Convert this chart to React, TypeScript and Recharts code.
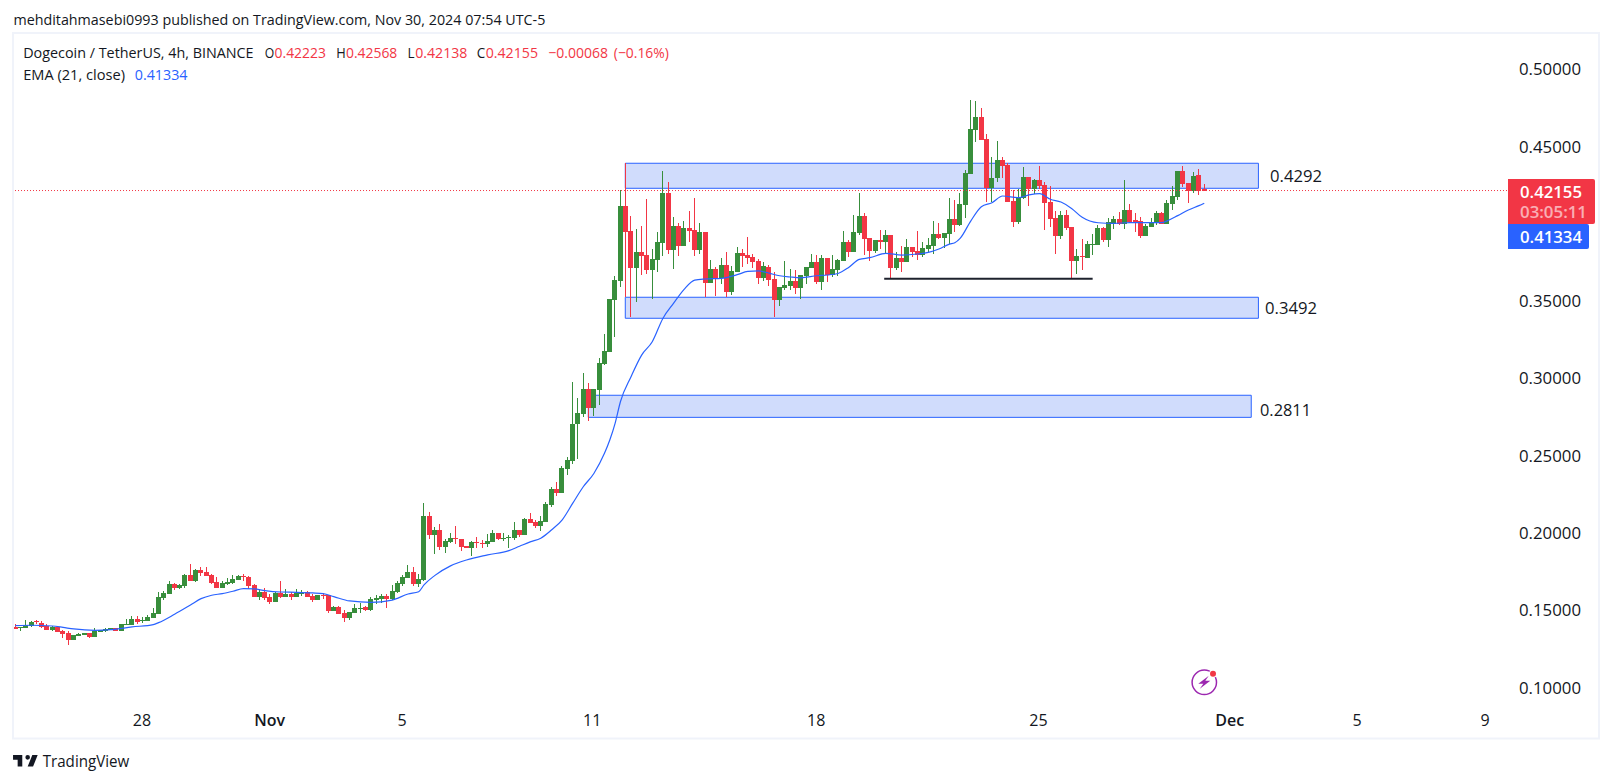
import React from "react";
import { ComposedChart, Bar, Line, XAxis, YAxis, ReferenceArea, ReferenceLine } from "recharts";

const opens = [
.1394,.1385,.1385,.1398,.1428,.1415,.1400,.1372,.1389,.1366,
.1351,.1310,.1336,.1342,.1351,.1329,.1362,.1366,.1372,.1385,
.1366,.1405,.1405,.1443,.1431,.1431,.1450,.1476,.1579,.1605,
.1670,.1644,.1657,.1728,.1689,.1761,.1748,.1728,.1683,.1644,
.1670,.1676,.1696,.1722,.1715,.1664,.1586,.1618,.1586,.1553,
.1612,.1586,.1605,.1586,.1610,.1618,.1592,.1566,.1599,.1599,
.1495,.1521,.1482,.1450,.1482,.1510,.1521,.1502,.1566,.1573,
.1592,.1573,.1618,.1670,.1709,.1748,.1670,.1696,.2110,.1987,
.2019,.1909,.1942,.1968,.1961,.1916,.1903,.1942,.1937,.1929,
.1942,.2000,.1961,.1970,.1968,.2019,.1987,.2091,.2071,.2045,
.2071,.2181,.2284,.2258,.2413,.2465,.2704,.2769,.2931,.2808,
.2924,.3093,.3170,.3507,.3630,.4115,.3953,.3714,.3817,.3798,
.3701,.3766,.3876,.4199,.3830,.3986,.3856,.3973,.3960,.3830,
.3947,.3617,.3707,.3649,.3733,.3558,.3688,.3811,.3798,.3785,
.3759,.3649,.3720,.3643,.3507,.3584,.3597,.3630,.3584,.3662,
.3714,.3753,.3623,.3779,.3669,.3701,.3759,.3882,.3817,.3940,
.4050,.3908,.3824,.3895,.3882,.3927,.3714,.3779,.3753,.3850,
.3824,.3798,.3837,.3857,.3934,.3908,.3934,.4031,.3992,.4122,
.4322,.4607,.4691,.4549,.4232,.4297,.4413,.4381,.4148,.4012,
.4167,.4303,.4225,.4284,.4251,.4141,.4038,.3921,.4057,.3979,
.3759,.3792,.3779,.3863,.3863,.3973,.3896,.3999,.4031,.3999,
.4090,.4025,.4019,.3921,.3980,.4006,.4070,.3999,.4129,.4174,
.4342,.4264,.4210,.4316,.42223];
const highs = [
.1409,.1389,.1435,.1430,.1437,.1428,.1409,.1400,.1400,.1372,
.1366,.1340,.1351,.1351,.1351,.1383,.1374,.1385,.1383,.1385,
.1409,.1443,.1463,.1463,.1456,.1469,.1515,.1618,.1625,.1690,
.1677,.1670,.1735,.1799,.1767,.1780,.1780,.1735,.1715,.1689,
.1709,.1728,.1728,.1735,.1722,.1670,.1638,.1644,.1605,.1618,
.1689,.1638,.1618,.1638,.1629,.1625,.1605,.1599,.1612,.1599,
.1528,.1528,.1502,.1489,.1541,.1547,.1528,.1586,.1599,.1605,
.1605,.1664,.1689,.1728,.1793,.1780,.1735,.2194,.2136,.2039,
.2058,.1961,.2000,.2045,.1961,.1916,.1948,.1974,.1955,.1994,
.2019,.2000,.2000,.1987,.2071,.2019,.2097,.2129,.2084,.2110,
.2201,.2298,.2329,.2433,.2491,.2976,.2873,.3034,.2970,.2931,
.3132,.3287,.3513,.3662,.4219,.4392,.4050,.3966,.3986,.4160,
.3837,.3947,.4342,.4270,.4044,.4005,.4018,.4083,.4167,.4005,
.3947,.3766,.3720,.3779,.3817,.3727,.3850,.3837,.3915,.3804,
.3772,.3753,.3733,.3688,.3591,.3759,.3707,.3701,.3669,.3720,
.3804,.3798,.3798,.3779,.3798,.3772,.3953,.3895,.4057,.4199,
.4070,.3908,.3895,.3960,.3960,.3927,.3817,.3856,.3901,.3850,
.3953,.3882,.3908,.4018,.4005,.3941,.4167,.4154,.4200,.4348,
.4801,.4795,.4749,.4581,.4432,.4536,.4432,.4394,.4219,.4225,
.4368,.4303,.4290,.4374,.4270,.4245,.4083,.4083,.4089,.3979,
.3837,.3902,.3889,.3934,.3992,.3980,.4038,.4051,.4077,.4284,
.4129,.4070,.4044,.3999,.4038,.4083,.4077,.4154,.4245,.4342,
.4374,.4264,.4336,.4355,.42568];
const lows = [
.1379,.1368,.1385,.1392,.1413,.1385,.1372,.1366,.1359,.1323,
.1275,.1310,.1334,.1342,.1321,.1329,.1359,.1359,.1372,.1366,
.1366,.1405,.1405,.1413,.1418,.1431,.1450,.1476,.1566,.1605,
.1631,.1638,.1644,.1689,.1683,.1722,.1722,.1670,.1644,.1644,
.1664,.1670,.1696,.1689,.1638,.1586,.1566,.1566,.1541,.1553,
.1579,.1586,.1566,.1586,.1592,.1586,.1553,.1566,.1573,.1482,
.1495,.1476,.1424,.1437,.1482,.1482,.1495,.1495,.1541,.1547,
.1515,.1566,.1612,.1657,.1709,.1657,.1651,.1689,.1961,.1864,
.1890,.1870,.1935,.1929,.1883,.1903,.1851,.1903,.1903,.1909,
.1942,.1955,.1948,.1903,.1955,.1974,.1987,.2065,.2032,.2013,
.2071,.2168,.2238,.2258,.2374,.2446,.2478,.2750,.2724,.2756,
.2827,.3086,.3170,.3267,.3591,.3524,.3397,.3494,.3669,.3675,
.3513,.3688,.3791,.3804,.3707,.3791,.3856,.3882,.3791,.3804,
.3526,.3617,.3533,.3610,.3526,.3539,.3688,.3720,.3740,.3714,
.3610,.3630,.3597,.3397,.3468,.3571,.3571,.3546,.3513,.3610,
.3714,.3610,.3571,.3623,.3656,.3662,.3759,.3785,.3817,.3927,
.3798,.3759,.3811,.3837,.3811,.3643,.3701,.3688,.3753,.3785,
.3766,.3785,.3817,.3805,.3902,.3844,.3869,.3947,.3986,.4038,
.4322,.4530,.4542,.4141,.4141,.4271,.4297,.4141,.3979,.3999,
.4161,.4115,.4193,.4225,.3960,.3979,.3805,.3902,.3960,.3649,
.3675,.3701,.3779,.3798,.3863,.3883,.3850,.3967,.3993,.3967,
.4012,.3947,.3908,.3921,.3980,.3993,.3999,.3999,.4090,.4154,
.4239,.4135,.4200,.4187,.42138];
const closes = [
.1379,.1389,.1405,.1424,.1422,.1392,.1374,.1389,.1359,.1349,
.1310,.1340,.1346,.1351,.1327,.1366,.1374,.1379,.1383,.1366,
.1409,.1411,.1443,.1424,.1437,.1456,.1482,.1586,.1612,.1670,
.1646,.1664,.1728,.1689,.1761,.1741,.1722,.1676,.1644,.1676,
.1683,.1702,.1722,.1713,.1657,.1586,.1618,.1582,.1553,.1612,
.1586,.1605,.1586,.1612,.1614,.1586,.1566,.1599,.1595,.1495,
.1521,.1476,.1450,.1489,.1515,.1515,.1502,.1573,.1579,.1592,
.1573,.1625,.1676,.1715,.1748,.1670,.1702,.2110,.1987,.2019,
.1909,.1948,.1968,.1963,.1909,.1903,.1942,.1937,.1933,.1948,
.2000,.1961,.1968,.1974,.2019,.1987,.2091,.2065,.2045,.2078,
.2188,.2285,.2258,.2420,.2471,.2704,.2775,.2931,.2808,.2931,
.3099,.3177,.3513,.3636,.4115,.3947,.3714,.3817,.3791,.3701,
.3772,.3882,.4199,.3830,.3986,.3856,.3973,.3953,.3830,.3947,
.3617,.3707,.3649,.3733,.3558,.3694,.3811,.3791,.3779,.3753,
.3649,.3727,.3636,.3507,.3591,.3604,.3630,.3584,.3669,.3720,
.3753,.3623,.3779,.3669,.3707,.3766,.3882,.3817,.3947,.4050,
.3901,.3824,.3895,.3882,.3927,.3714,.3779,.3753,.3850,.3817,
.3798,.3843,.3863,.3934,.3908,.3941,.4031,.3992,.4128,.4329,
.4614,.4691,.4542,.4232,.4297,.4413,.4374,.4141,.4012,.4174,
.4303,.4225,.4284,.4245,.4135,.4031,.3921,.4057,.3973,.3759,
.3792,.3788,.3869,.3869,.3973,.3896,.4012,.4031,.3999,.4090,
.4012,.4012,.3921,.3986,.4012,.4070,.3999,.4135,.4180,.4342,
.4258,.4210,.4310,.4213,.42155];

const emaIndex = [0,3,7,9,11,15,18,22,26,27,30,33,35,37,39,41,43,45,47,50,53,56,58,60,63,67,71,74,76,77,79,82,85,89,93,95,97,99,101,103,105,107,109,111,112,113,114,116,118,120,122,124,126,128,130,133,136,138,140,142,144,146,148,151,153,155,157,159,161,164,167,170,172,174,176,177,178,180,182,184,186,189,191,193,195,197,199,201,204,207,210,213,216,217,219,221,223,224];
const emaValues = [.1400,.1403,.1398,.1389,.1379,.1370,.1374,.1392,.1407,.1420,.1474,.1534,.1575,.1597,.1608,.1623,.1640,.1638,.1627,.1618,.1616,.1612,.1607,.1588,.1560,.1551,.1566,.1605,.1620,.1664,.1724,.1787,.1825,.1858,.1886,.1914,.1942,.1966,.2019,.2083,.2191,.2299,.2385,.2515,.2601,.2709,.2849,.3011,.3151,.3237,.3388,.3485,.3576,.3636,.3643,.3647,.3671,.3692,.3696,.3681,.3664,.3656,.3651,.3664,.3669,.3679,.3718,.3770,.3781,.3809,.3798,.3805,.3815,.3837,.3869,.3878,.3906,.4018,.4111,.4137,.4180,.4169,.4187,.4195,.4159,.4141,.4100,.4042,.4007,.4003,.4008,.4008,.4008,.4019,.4053,.4090,.4118,.41334];

const timeTicks = [23.87, 47.93, 72.85, 108.7, 150.9, 192.75, 228.8, 252.8, 276.9];
const timeLabels = ["28", "Nov", "5", "11", "18", "25", "Dec", "5", "9"];
const priceTicks = [0.1, 0.15, 0.2, 0.25, 0.3, 0.35, 0.4, 0.45, 0.5];
const shownPriceTicks = [0.1, 0.15, 0.2, 0.25, 0.3, 0.35, 0.45, 0.5];

const boxX1 = [114.92, 114.92, 107.95];
const boxX2 = [234.2, 234.2, 232.85];
const boxTop = [0.4392, 0.3525, 0.2891];
const boxBottom = [0.4230, 0.3389, 0.2748];
const boxLabels = ["0.4292", "0.3492", "0.2811"];

const supportPrice = 0.3645;
const supportFrom = 163.7;
const supportTo = 202.97;
const lastClose = 0.42155;

const GREEN = "#388e3c";
const RED = "#f23645";
const BLUE = "#2962ff";
const INK = "#131722";
const FONT = "'Open Sans', sans-serif";

const table = opens.map((o, i) => {
  const k = emaIndex.indexOf(i);
  return { i, open: o, high: highs[i], low: lows[i], close: closes[i], range: [lows[i], highs[i]], ema: k >= 0 ? emaValues[k] : null };
});

function Candle(props: any) {
  const { x, y, width, height, payload } = props;
  const { open, high, low, close } = payload;
  const k = height / (high - low);
  const top = y + (high - Math.max(open, close)) * k;
  const bottom = y + (high - Math.min(open, close)) * k;
  const cx = x + width / 2;
  const color = close >= open ? GREEN : RED;
  return (
    <g shapeRendering="crispEdges">
      <rect x={Math.round(cx - 0.5)} y={y} width={1} height={height} fill={color} />
      <rect x={Math.round(cx - 2.5)} y={top} width={5} height={Math.max(bottom - top, 1)} fill={color} />
    </g>
  );
}

function TimeTick(props: any) {
  const { x, y, index } = props;
  const label = timeLabels[index];
  const bold = label === "Nov" || label === "Dec";
  return (
    <text x={x} y={y + 10} textAnchor="middle" fontFamily={FONT} fontSize={16} fontWeight={bold ? 600 : 400} fill={INK}>
      {label}
    </text>
  );
}

function PriceTick(props: any) {
  const { y, payload } = props;
  if (!shownPriceTicks.includes(payload.value)) return null;
  return (
    <text x={1519} y={y + 6} fontFamily={FONT} fontSize={17} fill={INK} textLength={62} lengthAdjust="spacingAndGlyphs">
      {payload.value.toFixed(5)}
    </text>
  );
}

function T(p: { x: number; y: number; w: number; s: number; c: string; t: string; o?: number; b?: number }) {
  return (
    <text x={p.x} y={p.y} fontFamily={FONT} fontSize={p.s} fill={p.c} opacity={p.o} fontWeight={p.b} textLength={p.w} lengthAdjust="spacingAndGlyphs">
      {p.t}
    </text>
  );
}

export default function App() {
  return (
    <div style={{ position: "absolute", left: 0, top: 0, width: 1612, height: 783, background: "#fff", overflow: "hidden" }}>
      <div style={{ position: "absolute", left: 0, top: 0 }}>
        <ComposedChart width={1612} height={783} data={table} margin={{ top: 34, right: 0, left: 14, bottom: 45 }}>
          {boxX1.map((_, n) => (
            <ReferenceArea key={n} x1={boxX1[n]} x2={boxX2[n]} y1={boxBottom[n]} y2={boxTop[n]} fill="#d0dcfc" fillOpacity={1} stroke={BLUE} strokeWidth={1} ifOverflow="visible" />
          ))}
          <XAxis dataKey="i" type="number" domain={[-0.245, 281.6]} ticks={timeTicks} interval={0} height={30} axisLine={false} tickLine={false} tick={<TimeTick />} allowDataOverflow />
          <YAxis orientation="right" width={102} type="number" domain={[0.08675, 0.52283]} ticks={priceTicks} interval={0} axisLine={false} tickLine={false} tick={<PriceTick />} allowDataOverflow />
          <ReferenceLine y={lastClose} stroke={RED} strokeWidth={1} strokeDasharray="1 2" />
          <Line dataKey="ema" type="monotone" stroke={BLUE} strokeWidth={1.2} dot={false} activeDot={false} connectNulls isAnimationActive={false} />
          <Bar dataKey="range" barSize={5} shape={<Candle />} isAnimationActive={false} />
          <ReferenceLine segment={[{ x: supportFrom, y: supportPrice }, { x: supportTo, y: supportPrice }]} stroke="#1e222d" strokeWidth={2} ifOverflow="visible" />
        </ComposedChart>
      </div>
      <svg width={1612} height={783} style={{ position: "absolute", left: 0, top: 0, pointerEvents: "none" }}>
        <rect x={13} y={33} width={1586} height={705.5} fill="none" stroke="#f0f3fa" strokeWidth={2} />

        <T x={13.4} y={25} w={532} s={15} c={INK} t="mehditahmasebi0993 published on TradingView.com, Nov 30, 2024 07:54 UTC-5" />
        <T x={23.2} y={58} w={230.4} s={14.5} c={INK} t="Dogecoin / TetherUS, 4h, BINANCE" />
        <T x={264.7} y={58} w={9.5} s={14.5} c={INK} t="O" />
        <T x={274.6} y={58} w={51.3} s={14.5} c={RED} t="0.42223" />
        <T x={336.2} y={58} w={9.5} s={14.5} c={INK} t="H" />
        <T x={346} y={58} w={51.3} s={14.5} c={RED} t="0.42568" />
        <T x={407.6} y={58} w={7} s={14.5} c={INK} t="L" />
        <T x={415.2} y={58} w={52.2} s={14.5} c={RED} t="0.42138" />
        <T x={476.8} y={58} w={8.5} s={14.5} c={INK} t="C" />
        <T x={485.7} y={58} w={52.3} s={14.5} c={RED} t="0.42155" />
        <T x={548.2} y={58} w={59.8} s={14.5} c={RED} t={"\u22120.00068"} />
        <T x={613.8} y={58} w={55} s={14.5} c={RED} t={"(\u22120.16%)"} />
        <T x={23.2} y={80} w={101.8} s={14.5} c={INK} t="EMA (21, close)" />
        <T x={134.8} y={80} w={52.7} s={14.5} c={BLUE} t="0.41334" />

        <T x={1270} y={181.5} w={52} s={17} c={INK} t={boxLabels[0]} />
        <T x={1265} y={314} w={52} s={17} c={INK} t={boxLabels[1]} />
        <T x={1260} y={416} w={51} s={17} c={INK} t={boxLabels[2]} />

        <path d="M1508 179H1593a2 2 0 0 1 2 2V222a2 2 0 0 1-2 2H1508Z" fill={RED} />
        <path d="M1508 224H1587a2 2 0 0 1 2 2V247a2 2 0 0 1-2 2H1508Z" fill={BLUE} />
        <T x={1520} y={197.5} w={62} s={17} c="#fff" t="0.42155" b={600} />
        <T x={1520} y={217.5} w={67} s={17} c="#fff" o={0.6} t="03:05:11" b={600} />
        <T x={1520} y={242.5} w={62} s={17} c="#fff" t="0.41334" b={600} />

        <g transform="translate(1204.3 682.3)">
          <circle r={12.2} fill="#fff" stroke="#9c27b0" strokeWidth={1.5} />
          <path d="M4.5-6.5L-6 1.5H-1L-4.5 6.5L6-1.5H1Z" fill="#9c27b0" />
          <circle cx={8.7} cy={-8.6} r={4} fill="#fff" />
          <circle cx={8.7} cy={-8.6} r={3} fill={RED} />
        </g>

        <g transform="translate(11.5 750.4) scale(0.77)" fill={INK}>
          <path d="M14 6H2v6h6v9h6V6zm14 15h-7l6-15h7l-6 15zm-7-9a3 3 0 1 0 0-6 3 3 0 0 0 0 6z" />
        </g>
        <T x={42.7} y={767} w={86.6} s={16.5} c={INK} t="TradingView" />
      </svg>
    </div>
  );
}
